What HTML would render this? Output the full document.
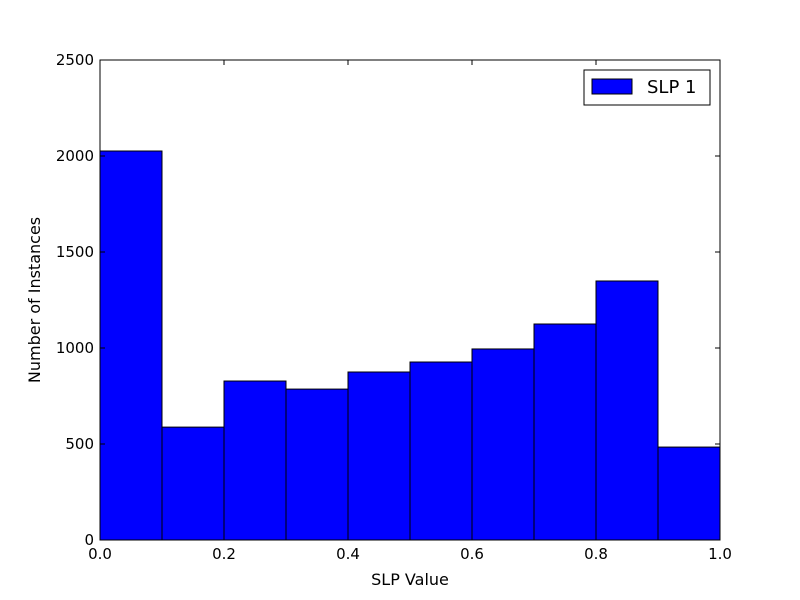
<!DOCTYPE html>
<html><head><meta charset="utf-8"><style>
body{margin:0;background:#fff;}
svg{display:block;font-family:"DejaVu Sans","Liberation Sans",sans-serif;}
</style></head><body>
<svg id="chart" width="800" height="600">
<rect x="0" y="0" width="800" height="600" fill="#fff"/>
<g id="bars"></g>
<g id="axes"></g>
<text x="410" y="585" text-anchor="middle" font-size="16">SLP Value</text>
<text x="0" y="0" transform="translate(40,300) rotate(-90)" text-anchor="middle" font-size="16">Number of Instances</text>
<g>
<rect x="584" y="70" width="126" height="35" fill="#fff" stroke="#000" stroke-width="1"/>
<rect x="592" y="79" width="40" height="15" fill="#0000ff" stroke="#000" stroke-width="1"/>
<text x="647" y="93" font-size="18">SLP 1</text>
</g>
</svg>
<script>
const binEdges=[0,0.1,0.2,0.3,0.4,0.5,0.6,0.7,0.8,0.9,1.0];
const counts=[2026,588,828,786,875,927,995,1125,1349,484];
const xTicks=[0,0.2,0.4,0.6,0.8,1.0];
const xTickLabels=["0.0","0.2","0.4","0.6","0.8","1.0"];
const yTicks=[0,500,1000,1500,2000,2500];
const yTickLabels=["0","500","1000","1500","2000","2500"];
const L=100,R=720,T=60,B=540;
const xs=v=>L+(v-0)/(1-0)*(R-L);
const ys=v=>B-(v/2500)*(B-T);
const NS="http://www.w3.org/2000/svg";
const bars=document.getElementById('bars');
counts.forEach((c,i)=>{
  const r=document.createElementNS(NS,'rect');
  r.setAttribute('x',xs(binEdges[i]));
  r.setAttribute('y',ys(c));
  r.setAttribute('width',xs(binEdges[i+1])-xs(binEdges[i]));
  r.setAttribute('height',ys(0)-ys(c));
  r.setAttribute('fill','#0000ff');
  r.setAttribute('stroke','#000');
  r.setAttribute('stroke-width','1');
  
  
  bars.appendChild(r);
});
const axes=document.getElementById('axes');
const frame=document.createElementNS(NS,'rect');
frame.setAttribute('x',L);frame.setAttribute('y',T);frame.setAttribute('width',R-L);frame.setAttribute('height',B-T);
frame.setAttribute('fill','none');frame.setAttribute('stroke','#000');frame.setAttribute('stroke-width','1');


axes.appendChild(frame);
function line(x1,y1,x2,y2){const l=document.createElementNS(NS,'line');l.setAttribute('x1',x1);l.setAttribute('y1',y1);l.setAttribute('x2',x2);l.setAttribute('y2',y2);l.setAttribute('stroke','#000');axes.appendChild(l);return l;}
function text(x,y,s,anchor){const t=document.createElementNS(NS,'text');t.setAttribute('x',x);t.setAttribute('y',y);t.setAttribute('text-anchor',anchor);t.setAttribute('font-size','15');t.textContent=s;axes.appendChild(t);return t;}
xTicks.forEach((v,i)=>{const x=xs(v);
  const a=line(x,B,x,B-5);
  const b=line(x,T,x,T+5);
  const t=text(x,B+19,xTickLabels[i],'middle');
});
yTicks.forEach((v,i)=>{const y=ys(v);
  const a=line(L,y,L+5,y);
  const b=line(R,y,R-5,y);
  const t=text(L-6,y+5,yTickLabels[i],'end');
});
</script>
</body></html>
